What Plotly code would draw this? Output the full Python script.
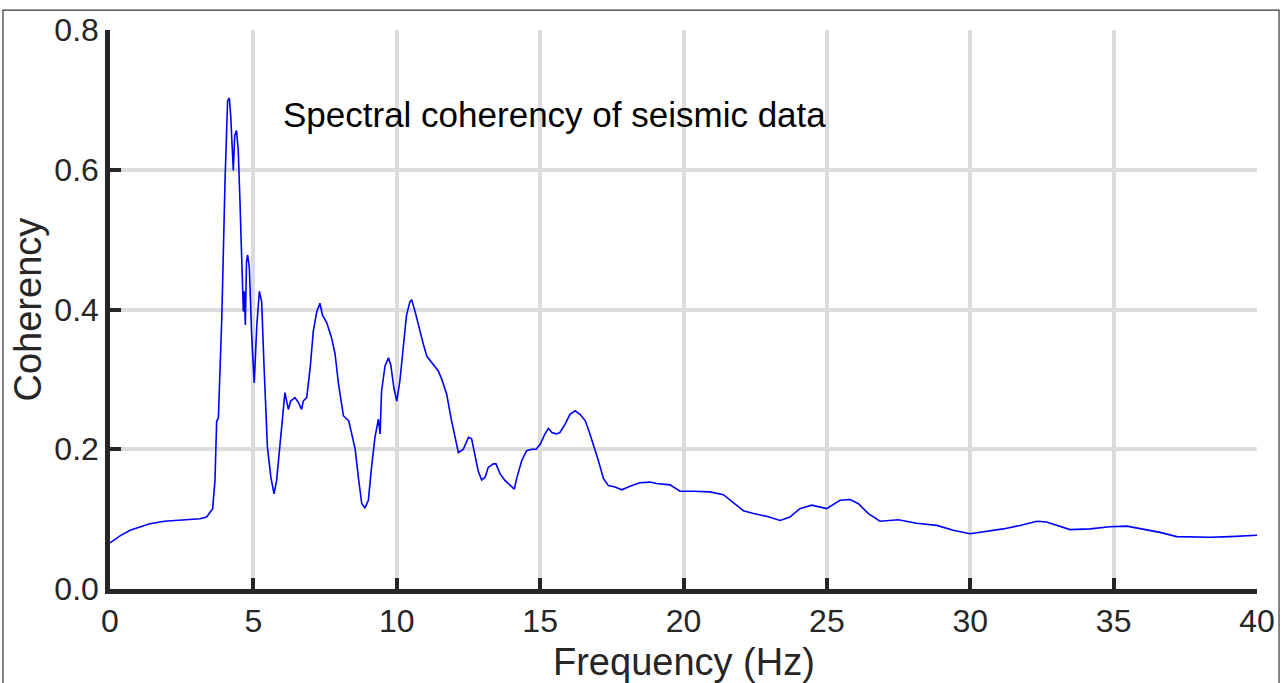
import plotly.graph_objects as go

freq = [
    0, 0.35, 0.70, 1.05, 1.39, 1.9, 2.44, 2.8, 3.14, 3.37,
    3.58, 3.66, 3.72, 3.78, 3.90, 4.01, 4.10, 4.16, 4.21, 4.30,
    4.35, 4.41, 4.47, 4.53, 4.63, 4.65, 4.68, 4.72, 4.76, 4.80,
    4.86, 4.94, 5.03, 5.12, 5.21, 5.29, 5.37, 5.49, 5.61, 5.72,
    5.81, 5.93, 6.04, 6.10, 6.22, 6.30, 6.45, 6.57, 6.68, 6.74,
    6.86, 6.98, 7.09, 7.21, 7.32, 7.41, 7.56, 7.73, 7.85, 7.97,
    8.14, 8.32, 8.43, 8.55, 8.66, 8.78, 8.89, 9.01, 9.12, 9.24,
    9.36, 9.42, 9.47, 9.59, 9.71, 9.79, 9.90, 10.00, 10.11, 10.23,
    10.34, 10.46, 10.52, 10.64, 10.75, 10.93, 11.05, 11.22, 11.34, 11.45,
    11.57, 11.74, 11.91, 12.03, 12.15, 12.32, 12.50, 12.61, 12.73, 12.84,
    12.96, 13.08, 13.19, 13.37, 13.46, 13.60, 13.78, 13.95, 14.10, 14.18,
    14.36, 14.53, 14.71, 14.86, 15.00, 15.17, 15.29, 15.41, 15.56, 15.69,
    15.87, 16.04, 16.22, 16.39, 16.57, 16.72, 16.86, 17.03, 17.21, 17.38,
    17.61, 17.85, 18.13, 18.48, 18.83, 19.06, 19.53, 19.88, 20.34, 20.92,
    21.39, 21.74, 22.09, 22.44, 22.90, 23.37, 23.71, 24.06, 24.47, 24.99,
    25.46, 25.81, 26.10, 26.45, 26.85, 27.49, 28.13, 28.83, 29.41, 29.99,
    30.46, 31.15, 31.74, 32.32, 32.66, 33.01, 33.48, 34.18, 34.87, 35.46,
    36.03, 36.62, 37.20, 37.78, 38.36, 39.06, 40.0,
]

coherency = [
    0.066, 0.076, 0.084, 0.089, 0.0935, 0.097, 0.099, 0.100, 0.1006, 0.103,
    0.115, 0.155, 0.24, 0.245, 0.39, 0.582, 0.698, 0.703, 0.677, 0.599,
    0.649, 0.656, 0.630, 0.558, 0.44, 0.397, 0.426, 0.378, 0.468, 0.478,
    0.459, 0.364, 0.295, 0.378, 0.426, 0.411, 0.321, 0.203, 0.160, 0.136,
    0.155, 0.212, 0.264, 0.281, 0.257, 0.269, 0.274, 0.267, 0.257, 0.269,
    0.274, 0.316, 0.369, 0.397, 0.409, 0.392, 0.381, 0.359, 0.336, 0.293,
    0.248, 0.241, 0.222, 0.200, 0.160, 0.122, 0.116, 0.127, 0.174, 0.217,
    0.243, 0.222, 0.283, 0.319, 0.331, 0.321, 0.288, 0.269, 0.298, 0.345,
    0.392, 0.411, 0.414, 0.397, 0.378, 0.350, 0.333, 0.324, 0.319, 0.312,
    0.300, 0.279, 0.241, 0.217, 0.195, 0.200, 0.217, 0.215, 0.193, 0.169,
    0.156, 0.160, 0.174, 0.179, 0.179, 0.165, 0.155, 0.149, 0.143, 0.158,
    0.184, 0.198, 0.200, 0.200, 0.207, 0.222, 0.230, 0.224, 0.222, 0.224,
    0.236, 0.250, 0.255, 0.250, 0.241, 0.224, 0.207, 0.184, 0.158, 0.148,
    0.146, 0.142, 0.147, 0.152, 0.153, 0.151, 0.149, 0.140, 0.140, 0.139,
    0.135, 0.124, 0.112, 0.108, 0.104, 0.098, 0.103, 0.115, 0.120, 0.115,
    0.127, 0.128, 0.122, 0.108, 0.097, 0.099, 0.094, 0.091, 0.084, 0.079,
    0.082, 0.086, 0.091, 0.097, 0.096, 0.091, 0.085, 0.086, 0.089, 0.090,
    0.086, 0.081, 0.075, 0.074, 0.074, 0.075, 0.077,
]

x_ticks = [0, 5, 10, 15, 20, 25, 30, 35, 40]
y_ticks = [0.0, 0.2, 0.4, 0.6, 0.8]
y_tick_text = ["0.0", "0.2", "0.4", "0.6", "0.8"]
title_text = "Spectral coherency of seismic data"
x_label = "Frequency (Hz)"
y_label = "Coherency"

FONT = "Liberation Sans, Arial, sans-serif"
AX = "#262626"

fig = go.Figure()
fig.add_trace(go.Scatter(
    x=freq, y=coherency, mode="lines",
    line=dict(color="#0000ff", width=1.6),
    showlegend=False, hoverinfo="skip",
))

axis_common = dict(
    showgrid=True, gridcolor="#dcdcdc", gridwidth=3.5,
    showline=True, linecolor=AX, linewidth=4.5,
    ticks="inside", ticklen=11, tickwidth=4, tickcolor=AX,
    tickfont=dict(size=32, family=FONT, color=AX),
    zeroline=False, mirror=False,
)

fig.update_layout(
    width=1287, height=683,
    margin=dict(l=110, r=30, t=27, b=94, pad=0),
    paper_bgcolor="white", plot_bgcolor="white",
    font=dict(family=FONT, color=AX),
    xaxis=dict(range=[0, 40], tickvals=x_ticks,
               ticktext=[str(v) for v in x_ticks], **axis_common),
    yaxis=dict(range=[0, 0.8], tickvals=y_ticks,
               ticktext=y_tick_text, **axis_common),
    annotations=[
        dict(text=title_text, xref="paper", yref="paper", x=0.1495, y=0.849,
             xanchor="left", yanchor="middle", showarrow=False,
             font=dict(size=35, family=FONT, color="black")),
        dict(text=y_label, xref="paper", yref="paper", x=-0.0715, y=0.5,
             xanchor="center", yanchor="middle", textangle=-90, showarrow=False,
             font=dict(size=38, family=FONT, color=AX)),
        dict(text=x_label, xref="paper", yref="paper", x=0.5, y=-0.13,
             xanchor="center", yanchor="middle", showarrow=False,
             font=dict(size=38, family=FONT, color=AX)),
    ],
    shapes=[
        dict(type="rect", xref="paper", yref="paper",
             x0=-0.0933, x1=1.0192, y0=-0.3, y1=1.0356,
             line=dict(color="#333333", width=1.2), fillcolor="rgba(0,0,0,0)",
             layer="below"),
    ],
)

fig.write_html("out.html")
